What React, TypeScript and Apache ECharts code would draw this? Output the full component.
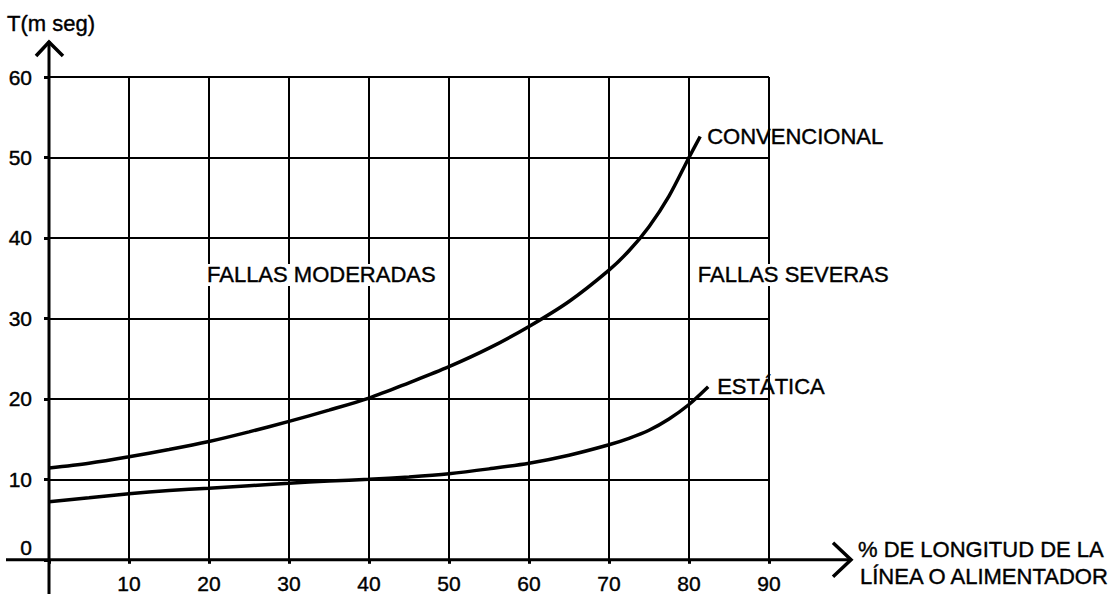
import React, { useEffect, useRef } from "react";
import * as echarts from "echarts";

// ---- data ----
const convX = [0, 5, 10, 15, 20, 25, 30, 35, 40, 45, 50, 55, 60, 65, 70, 72.5, 75, 77.5, 80, 81.4];
const convY = [11.4, 12.0, 12.8, 13.7, 14.7, 15.9, 17.2, 18.6, 20.1, 22.0, 24.0, 26.3, 29.0, 32.1, 36.0, 38.4, 41.4, 45.2, 50.0, 52.6];
const estX = [0, 5, 10, 15, 20, 25, 30, 35, 40, 45, 50, 55, 60, 65, 70, 72.5, 75, 77.5, 80, 82.4];
const estY = [7.2, 7.7, 8.2, 8.6, 8.9, 9.2, 9.5, 9.8, 10.0, 10.3, 10.7, 11.3, 12.0, 13.0, 14.3, 15.1, 16.1, 17.5, 19.3, 21.5];
const seriesNames = ["CONVENCIONAL", "ESTÁTICA"];
const yTitle = "T(m seg)";
const xTitleLines = ["% DE LONGITUD DE LA", "LÍNEA O ALIMENTADOR"];
const regionLabels = ["FALLAS MODERADAS", "FALLAS SEVERAS"];

const FONT = '"Liberation Sans", Arial, Helvetica, sans-serif';
const FS = 22;
const BW = 0.4;

export default function App() {
  const ref = useRef<HTMLDivElement>(null);
  useEffect(() => {
    if (!ref.current) return;
    const chart = echarts.init(ref.current, undefined, { renderer: "svg" });
    const conv = convX.map((x, i) => [x, convY[i]]);
    const est = estX.map((x, i) => [x, estY[i]]);
    const labelStyle = {
      color: "#000",
      fontFamily: FONT,
      fontSize: 21,
      textBorderColor: "#000",
      textBorderWidth: BW,
    };
    chart.setOption({
      animation: false,
      backgroundColor: "#fff",
      grid: { left: 49, right: 349, top: 77, bottom: 34, containLabel: false },
      xAxis: {
        type: "value",
        min: 0,
        max: 90,
        interval: 10,
        axisLine: { show: false },
        axisTick: { show: true, length: 4, lineStyle: { color: "#000", width: 3 } },
        axisLabel: {
          margin: 13,
          ...labelStyle,
          formatter: (v: number) => (v === 0 ? "" : String(v)),
        },
        splitLine: { show: true, lineStyle: { color: "#000", width: 2 } },
      },
      yAxis: {
        type: "value",
        min: 0,
        max: 60,
        interval: 10,
        axisLine: { show: false },
        axisTick: { show: true, length: 5, lineStyle: { color: "#000", width: 3 } },
        axisLabel: {
          margin: 17,
          ...labelStyle,
          formatter: (v: number) => (v === 0 ? "{z|0}" : String(v)),
          rich: { z: { ...labelStyle, padding: [0, 0, 24, 0] } },
        },
        splitLine: { show: true, lineStyle: { color: "#000", width: 2 } },
      },
      series: [
        {
          name: seriesNames[0],
          type: "line",
          data: conv,
          smooth: 0.3,
          showSymbol: false,
          lineStyle: { color: "#000", width: 3.5 },
          endLabel: {
            show: true,
            formatter: seriesNames[0],
            distance: 7,
            color: "#000",
            fontFamily: FONT,
            fontSize: FS,
            textBorderColor: "#000",
            textBorderWidth: BW,
          },
        },
        {
          name: seriesNames[1],
          type: "line",
          data: est,
          smooth: 0.3,
          showSymbol: false,
          lineStyle: { color: "#000", width: 3.5 },
          endLabel: {
            show: true,
            formatter: seriesNames[1],
            distance: 9,
            color: "#000",
            fontFamily: FONT,
            fontSize: FS,
            textBorderColor: "#000",
            textBorderWidth: BW,
          },
        },
      ],
    });

    const o = chart.convertToPixel({ gridIndex: 0 }, [0, 0]) as number[];
    const p = (x: number, y: number) => chart.convertToPixel({ gridIndex: 0 }, [x, y]) as number[];
    const x0 = o[0];
    const y0 = o[1];
    const mod = p(19.75, 35.4);
    const sev = p(81.1, 35.4);
    const txt = (text: string, x: number, y: number, bg?: boolean) => ({
      type: "text",
      x,
      y,
      z: 100,
      style: {
        text,
        fill: "#000",
        font: `${FS}px ${FONT}`,
        verticalAlign: "middle",
        align: "left",
        stroke: "#000",
        lineWidth: BW,
        backgroundColor: bg ? "#fff" : undefined,
      },
    });
    chart.setOption({
      graphic: [
        { type: "line", z: 50, shape: { x1: x0, y1: 594, x2: x0, y2: 41 }, style: { stroke: "#000", lineWidth: 3 } },
        {
          type: "polyline",
          z: 50,
          shape: { points: [[x0 - 13, 56], [x0, 42], [x0 + 14, 56]] },
          style: { stroke: "#000", lineWidth: 3.5, fill: "none" },
        },
        { type: "line", z: 50, shape: { x1: 6, y1: y0, x2: 850, y2: y0 }, style: { stroke: "#000", lineWidth: 3 } },
        {
          type: "polyline",
          z: 50,
          shape: { points: [[833, y0 - 17], [851, y0], [833, y0 + 17]] },
          style: { stroke: "#000", lineWidth: 3.5, fill: "none" },
        },
        txt(yTitle, 7, 23),
        txt(regionLabels[0], mod[0], mod[1], true),
        txt(regionLabels[1], sev[0], sev[1], true),
        txt(xTitleLines[0], 858, 549),
        txt(xTitleLines[1], 860, 576),
      ],
    });
    return () => chart.dispose();
  }, []);
  return (
    <div
      ref={ref}
      style={{ position: "fixed", left: 0, top: 0, width: 1118, height: 594, background: "#fff" }}
    />
  );
}
